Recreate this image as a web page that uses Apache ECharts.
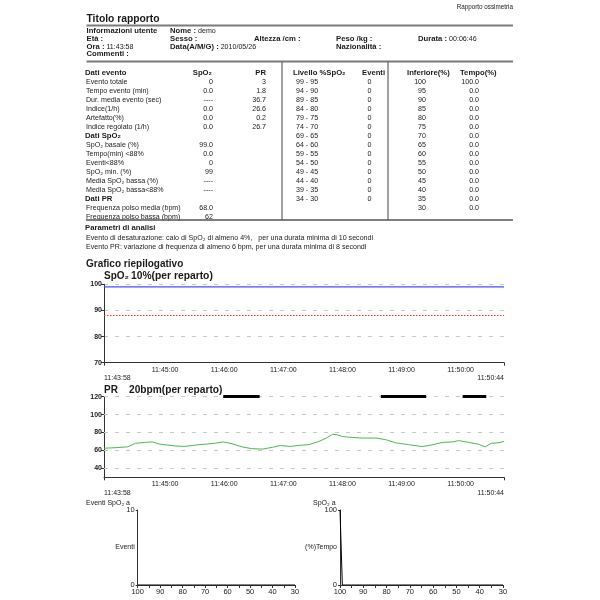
<!DOCTYPE html>
<html><head><meta charset="utf-8">
<script src="https://cdn.jsdelivr.net/npm/echarts@6/dist/echarts.min.js"></script>
<style>html,body{margin:0;padding:0;background:#fff}#c{width:600px;height:600px}</style>
</head><body><div id="c"></div>
<script>
// ---------- data ----------
const reportName = 'Rapporto ossimetria';
const reportTitle = 'Titolo rapporto';
const userName = 'demo';
const startTime = '11:43:58';
const endTime = '11:50:44';
const recDate = '2010/05/26';
const duration = '00:06:46';

const eventLabels = ['Evento totale','Tempo evento (min)','Dur. media evento (sec)','Indice(1/h)','Artefatto(%)','Indice regolato (1/h)'];
const eventSpO2 = ['0','0.0','----','0.0','0.0','0.0'];
const eventPR = ['3','1.8','36.7','26.6','0.2','26.7'];
const spo2Labels = ['SpO₂ basale (%)','Tempo(min) <88%','Eventi<88%','SpO₂ min. (%)','Media SpO₂ bassa (%)','Media SpO₂ bassa<88%'];
const spo2Values = ['99.0','0.0','0','99','----','----'];
const prLabels = ['Frequenza polso media (bpm)','Frequenza polso bassa (bpm)'];
const prStats = ['68.0','62'];
const levelRanges = ['99 - 95','94 - 90','89 - 85','84 - 80','79 - 75','74 - 70','69 - 65','64 - 60','59 - 55','54 - 50','49 - 45','44 - 40','39 - 35','34 - 30'];
const levelEvents = ['0','0','0','0','0','0','0','0','0','0','0','0','0','0'];
const lowerLimits = ['100','95','90','85','80','75','70','65','60','55','50','45','40','35','30'];
const lowerTimePct = ['100.0','0.0','0.0','0.0','0.0','0.0','0.0','0.0','0.0','0.0','0.0','0.0','0.0','0.0','0.0'];

const timeTicks = ['11:45:00','11:46:00','11:47:00','11:48:00','11:49:00','11:50:00'];
const spo2Times = ['11:43:58','11:50:44'];
const spo2Series = [99, 99];
const spo2Threshold = 88;

const prTimes = ['11:43:58','11:44:09','11:44:22','11:44:30','11:44:40','11:44:47','11:44:55','11:45:10','11:45:20','11:45:31','11:45:41','11:45:51','11:45:59','11:46:08','11:46:18','11:46:28','11:46:39','11:46:49','11:46:57','11:47:07','11:47:15','11:47:26','11:47:36','11:47:44','11:47:50','11:47:55','11:48:00','11:48:10','11:48:20','11:48:34','11:48:44','11:48:54','11:49:07','11:49:21','11:49:30','11:49:42','11:49:52','11:49:58','11:50:08','11:50:18','11:50:25','11:50:31','11:50:38','11:50:44'];
const prSeries = [62.5,63,64,68,69,69.5,67,65,64.5,66,67,68,69.5,67.5,64,62,61.5,63.5,65.5,64.5,65.5,66.5,70,74,78,77.5,75.5,74.5,73.8,73.8,72,68.5,66.5,64.3,66,69,69.5,71,69,67,64,68,68.5,70];
const prTicks = [40, 60, 80, 100, 120];
const prEventStart = ['11:45:59','11:48:39','11:50:02'];
const prEventEnd = ['11:46:36','11:49:25','11:50:26'];
const prEventLevel = 120;

const histEventLevels = [100,95,90,85,80,75,70,65,60,55,50,45,40,35,30];
const histEventCounts = [0,0,0,0,0,0,0,0,0,0,0,0,0,0,0];
const histTimeLevels = [100,99,95,90,85,80,75,70,65,60,55,50,45,40,35,30];
const histTimePct = [100,0,0,0,0,0,0,0,0,0,0,0,0,0,0,0];

// ---------- helpers ----------
const FONT = '"Liberation Sans", Arial, sans-serif';
const toSec = s => { const p = s.split(':').map(Number); return p[0]*3600 + p[1]*60 + p[2]; };
const pad = n => String(n).padStart(2, '0');
const fmt = v => pad(Math.floor(v/3600)) + ':' + pad(Math.floor(v%3600/60)) + ':' + pad(v%60);
const startSec = toSec(startTime), endSec = toSec(endTime);
const tickSecs = timeTicks.map(toSec);

const NS = 7.1, BS = 7.7;
const g = [];
function T(x, y, text, o) {
  o = o || {};
  const size = o.size || NS;
  const st = {
    text: text, x: x, y: y,
    fill: o.color || '#1a1a1a',
    font: (o.bold ? 'bold ' : '') + size + 'px ' + FONT,
    fontSize: size, fontWeight: o.bold ? 'bold' : 'normal', fontFamily: FONT,
    align: o.align || 'left', verticalAlign: 'middle',
    textAlign: o.align || 'left', textVerticalAlign: 'middle'
  };
  if (o.rich) st.rich = o.rich;
  g.push({ type: 'text', silent: true, style: st });
}
function L(x1, y1, x2, y2, w, c) {
  g.push({ type: 'line', silent: true, shape: { x1, y1, x2, y2 }, style: { stroke: c || '#555', lineWidth: w || 1 } });
}
const RB = { b: { fontWeight: 'bold', fontSize: BS, fontFamily: FONT, fill: '#1a1a1a' }, n: { fontSize: NS, fontFamily: FONT, fill: '#1a1a1a' } };

// header
T(513, 7, reportName, { size: 6.3, align: 'right' });
T(86.5, 19, reportTitle, { bold: true, size: 10.3 });
L(86.5, 25.5, 513, 25.5, 2, '#7a7a7a');
T(86.5, 31, 'Informazioni utente', { bold: true, size: BS });
T(170, 31, '{b|Nome :}{n| ' + userName + '}', { rich: RB });
T(86.5, 38.7, 'Età :', { bold: true, size: BS });
T(170, 38.7, 'Sesso :', { bold: true, size: BS });
T(254, 38.7, 'Altezza /cm :', { bold: true, size: BS });
T(336, 38.7, 'Peso /kg :', { bold: true, size: BS });
T(418, 38.7, '{b|Durata :}{n| ' + duration + '}', { rich: RB });
T(86.5, 46.6, '{b|Ora :}{n| ' + startTime + '}', { rich: RB });
T(170, 46.6, '{b|Data(A/M/G) :}{n| ' + recDate + '}', { rich: RB });
T(336, 46.6, 'Nazionalità :', { bold: true, size: BS });
T(86.5, 54, 'Commenti :', { bold: true, size: BS });
L(86.5, 61.5, 513, 61.5, 2, '#7a7a7a');

// table
const rowY = i => 73 + 9 * i;
T(85, rowY(0), 'Dati evento', { bold: true, size: BS });
T(212, rowY(0), 'SpO₂', { bold: true, size: BS, align: 'right' });
T(266, rowY(0), 'PR', { bold: true, size: BS, align: 'right' });
eventLabels.forEach((s, i) => { T(86, rowY(1 + i), s); T(213, rowY(1 + i), eventSpO2[i], { align: 'right' }); T(266, rowY(1 + i), eventPR[i], { align: 'right' }); });
T(85, rowY(7), 'Dati SpO₂', { bold: true, size: BS });
spo2Labels.forEach((s, i) => { T(86, rowY(8 + i), s); T(213, rowY(8 + i), spo2Values[i], { align: 'right' }); });
T(85, rowY(14), 'Dati PR', { bold: true, size: BS });
prLabels.forEach((s, i) => { T(86, rowY(15 + i), s); T(213, rowY(15 + i), prStats[i], { align: 'right' }); });

T(293, rowY(0), 'Livello %SpO₂', { bold: true, size: BS });
T(362, rowY(0), 'Eventi', { bold: true, size: BS });
levelRanges.forEach((s, i) => { T(296, rowY(1 + i), s); T(369.5, rowY(1 + i), levelEvents[i], { align: 'center' }); });
T(407, rowY(0), 'Inferiore(%)', { bold: true, size: BS });
T(460, rowY(0), 'Tempo(%)', { bold: true, size: BS });
lowerLimits.forEach((s, i) => { T(426, rowY(1 + i), s, { align: 'right' }); T(479, rowY(1 + i), lowerTimePct[i], { align: 'right' }); });
L(282, 62, 282, 220, 1, '#444');
L(388, 62, 388, 220, 1, '#444');
L(86, 220, 513, 220, 1.5, '#555');

T(85, 228.3, 'Parametri di analisi', { bold: true, size: BS });
T(86, 237.8, 'Evento di desaturazione: calo di SpO₂ di almeno 4%,   per una durata minima di 10 secondi');
T(86, 247.4, 'Evento PR: variazione di frequenza di almeno 6 bpm, per una durata minima di 8 secondi');
T(86, 264.5, 'Grafico riepilogativo', { bold: true, size: 10 });
T(104, 276, 'SpO₂', { bold: true, size: 10 });
T(131, 276, '10%(per reparto)', { bold: true, size: 10.3 });
T(104, 390, 'PR', { bold: true, size: 10 });
T(129, 390, '20bpm(per reparto)', { bold: true, size: 10.2 });
T(86, 503.5, 'Eventi SpO₂ a', { size: 7 });
T(313, 503.5, 'SpO₂ a', { size: 7 });

// ---------- chart ----------
const axisColor = '#333';
function timeAxis(gi) {
  const labelVals = [startSec].concat(tickSecs, [endSec]);
  return {
    type: 'value', gridIndex: gi, min: startSec, max: endSec,
    axisLine: { show: true, onZero: false, lineStyle: { color: axisColor, width: 1 } },
    axisTick: { show: true, length: 3, customValues: [startSec, endSec], lineStyle: { color: axisColor } },
    axisLabel: {
      customValues: labelVals, fontSize: 7, color: '#222', fontFamily: FONT, margin: 3, lineHeight: 8.5,
      alignMinLabel: 'left', alignMaxLabel: 'right',
      formatter: v => (v === startSec || v === endSec) ? '\n' + fmt(v) : fmt(v)
    },
    splitLine: { show: false }
  };
}
const dash = { color: '#c8c8c8', type: [4, 7], width: 1 };
const yLab = { fontSize: 7, fontWeight: 'bold', color: '#222', fontFamily: FONT, margin: 2 };
const histName = { fontSize: 7, color: '#222', fontFamily: FONT, align: 'right', verticalAlign: 'middle' };

const option = {
  animation: false,
  backgroundColor: '#fff',
  graphic: { elements: g },
  grid: [
    { left: 104, top: 284.3, width: 400, height: 78.4 },
    { left: 104, top: 396.7, width: 400, height: 80.6 },
    { left: 137.7, top: 510, width: 157.3, height: 75 },
    { left: 340, top: 510, width: 163, height: 75 }
  ],
  xAxis: [
    timeAxis(0), timeAxis(1),
    { type: 'value', gridIndex: 2, min: 30, max: 100, interval: 5, inverse: true,
      axisLine: { lineStyle: { color: axisColor } }, axisTick: { length: 3, lineStyle: { color: axisColor } },
      axisLabel: { fontSize: 7.5, color: '#222', fontFamily: FONT, margin: 3, formatter: v => v % 10 === 0 ? String(v) : '' },
      splitLine: { show: false } },
    { type: 'value', gridIndex: 3, min: 30, max: 100, interval: 5, inverse: true,
      axisLine: { lineStyle: { color: axisColor } }, axisTick: { length: 3, lineStyle: { color: axisColor } },
      axisLabel: { fontSize: 7.5, color: '#222', fontFamily: FONT, margin: 3, formatter: v => v % 10 === 0 ? String(v) : '' },
      splitLine: { show: false } }
  ],
  yAxis: [
    { type: 'value', gridIndex: 0, min: 70, max: 100, interval: 10,
      axisLine: { show: true, lineStyle: { color: axisColor } }, axisTick: { show: true, length: 3 },
      axisLabel: yLab, splitLine: { show: true, lineStyle: dash } },
    { type: 'value', gridIndex: 1, min: 30, max: 120,
      axisLine: { show: true, lineStyle: { color: axisColor } },
      axisTick: { show: true, length: 3, customValues: prTicks },
      axisLabel: Object.assign({ customValues: prTicks }, yLab),
      splitLine: { show: false } },
    { type: 'value', gridIndex: 2, min: 0, max: 10, interval: 10,
      name: 'Eventi', nameLocation: 'middle', nameRotate: 0, nameGap: 3, nameMoveOverlap: false,
      nameTextStyle: histName,
      axisLine: { show: true, lineStyle: { color: axisColor } }, axisTick: { show: true, length: 2 },
      axisLabel: { fontSize: 7.5, color: '#222', fontFamily: FONT, margin: 3 }, splitLine: { show: false } },
    { type: 'value', gridIndex: 3, min: 0, max: 100, interval: 100,
      name: '(%)Tempo', nameLocation: 'middle', nameRotate: 0, nameGap: 3, nameMoveOverlap: false,
      nameTextStyle: histName,
      axisLine: { show: true, lineStyle: { color: axisColor } }, axisTick: { show: true, length: 2 },
      axisLabel: { fontSize: 7.5, color: '#222', fontFamily: FONT, margin: 3 }, splitLine: { show: false } }
  ],
  series: [
    { type: 'line', xAxisIndex: 0, yAxisIndex: 0, showSymbol: false, silent: true,
      data: spo2Times.map((t, i) => [toSec(t), spo2Series[i]]),
      lineStyle: { color: '#4a4aff', width: 1.2 },
      markLine: { silent: true, symbol: 'none', label: { show: false },
        lineStyle: { color: '#ff2a2a', type: [1.5, 1.5], width: 1 },
        data: [{ yAxis: spo2Threshold, lineStyle: { color: '#ff2a2a', type: [1.5, 1.5], width: 1 } }] } },
    { type: 'line', xAxisIndex: 1, yAxisIndex: 1, showSymbol: false, silent: true, z: 3,
      data: prTimes.map((t, i) => [toSec(t), prSeries[i]]),
      lineStyle: { color: '#4cb84c', width: 1 } },
    { type: 'line', xAxisIndex: 1, yAxisIndex: 1, showSymbol: false, silent: true, z: 1,
      data: [],
      markLine: { silent: true, symbol: 'none', label: { show: false }, z: 1,
        lineStyle: dash,
        data: prTicks.map(v => ({ yAxis: v, lineStyle: dash })) } },
    { type: 'line', xAxisIndex: 1, yAxisIndex: 1, showSymbol: false, silent: true, z: 4,
      data: [],
      markLine: { silent: true, symbol: 'none', label: { show: false },
        lineStyle: { color: '#000', type: 'solid', width: 3 },
        data: prEventStart.map((s, i) => [{ coord: [toSec(s), prEventLevel] }, { coord: [toSec(prEventEnd[i]), prEventLevel] }]) } },
    { type: 'line', xAxisIndex: 2, yAxisIndex: 2, showSymbol: false, silent: true,
      data: histEventLevels.map((l, i) => [l, histEventCounts[i]]), lineStyle: { color: '#000', width: 1 } },
    { type: 'line', xAxisIndex: 3, yAxisIndex: 3, showSymbol: false, silent: true,
      data: histTimeLevels.map((l, i) => [l, histTimePct[i]]), lineStyle: { color: '#000', width: 1 } }
  ]
};
const chart = echarts.init(document.getElementById('c'), null, { renderer: 'canvas' });
chart.setOption(option);
</script></body></html>
